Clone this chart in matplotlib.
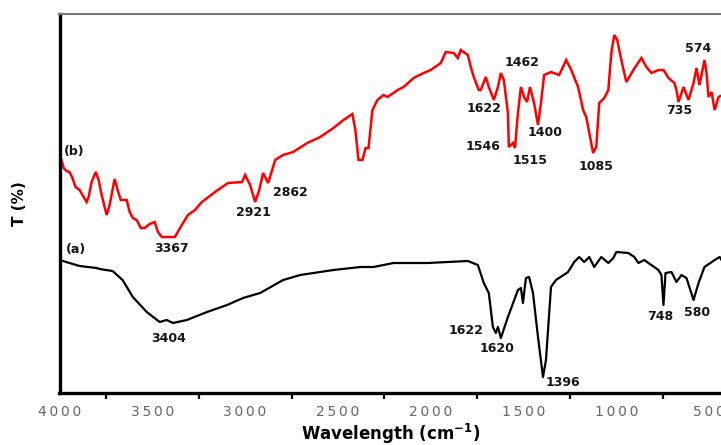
import numpy as np
import matplotlib
matplotlib.use("Agg")
import matplotlib.pyplot as plt

# spectrum (b), red: wavenumber (cm-1) and transmittance (arbitrary units)
wn_b = [3989, 3978, 3962, 3946, 3930, 3914, 3892, 3876, 3854, 3843, 3827, 3805,
        3789, 3773, 3746, 3730, 3703, 3687, 3670, 3638, 3622, 3605, 3584, 3562,
        3541, 3514, 3487, 3470, 3449, 3378, 3351, 3308, 3270, 3233, 3162, 3092,
        3016, 3000, 2973, 2946, 2924, 2903, 2876, 2838, 2795, 2741, 2665, 2595,
        2524, 2470, 2422, 2406, 2389, 2368, 2351, 2335, 2314, 2287, 2254, 2233,
        2178, 2146, 2092, 2038, 2000, 1946, 1919, 1876, 1854, 1838, 1800, 1784,
        1768, 1741, 1730, 1703, 1687, 1676, 1660, 1638, 1622, 1606, 1584, 1579,
        1557, 1546, 1530, 1514, 1497, 1481, 1465, 1443, 1422, 1406, 1389, 1352,
        1308, 1270, 1243, 1206, 1179, 1162, 1125, 1108, 1092, 1065, 1043, 1027,
        1011, 995, 973, 946, 908, 865, 838, 811, 773, 746, 719, 687,
        676, 665, 638, 611, 584, 568, 552, 525, 514, 503, 487, 470,
        449, 427]
t_b = [233, 225, 222, 221, 215, 206, 203, 198, 191, 196, 211, 221,
       213, 198, 178, 188, 214, 203, 193, 193, 181, 175, 173, 165,
       165, 169, 171, 161, 156, 156, 165, 178, 183, 191, 201, 210,
       211, 218, 208, 191, 203, 220, 210, 233, 238, 241, 250, 256,
       265, 273, 279, 263, 233, 233, 245, 245, 283, 293, 298, 296,
       303, 306, 315, 320, 323, 330, 341, 340, 335, 343, 338, 326,
       316, 303, 303, 316, 306, 301, 293, 306, 320, 313, 280, 246,
       250, 245, 280, 306, 296, 291, 306, 290, 268, 290, 318, 321,
       318, 333, 323, 306, 283, 276, 240, 246, 290, 295, 303, 340,
       358, 353, 333, 311, 323, 335, 326, 320, 323, 323, 315, 310,
       303, 291, 306, 293, 310, 325, 308, 333, 320, 296, 301, 283,
       296, 298]

# spectrum (a), black
wn_a = [4000, 3892, 3800, 3784, 3714, 3660, 3605, 3530, 3460, 3422, 3389, 3314,
        3205, 3097, 3011, 2919, 2795, 2703, 2524, 2378, 2308, 2200, 2016, 1800,
        1746, 1714, 1687, 1665, 1649, 1638, 1622, 1584, 1530, 1514, 1503, 1487,
        1470, 1449, 1422, 1395, 1379, 1352, 1325, 1260, 1227, 1200, 1173, 1146,
        1119, 1081, 1043, 1016, 1000, 935, 903, 881, 849, 827, 773, 757,
        746, 735, 703, 676, 649, 622, 584, 557, 525, 470, 443, 427]
t_a = [133, 127, 125, 124, 122, 113, 96, 81, 71, 73, 70, 73,
       81, 88, 95, 100, 113, 118, 123, 126, 126, 130, 130, 132,
       128, 110, 100, 66, 60, 66, 55, 76, 103, 105, 90, 115,
       116, 100, 56, 16, 33, 106, 113, 121, 131, 136, 131, 136,
       126, 136, 130, 135, 141, 140, 136, 130, 133, 130, 123, 118,
       88, 120, 121, 111, 118, 115, 93, 110, 126, 133, 136, 131]

# peak labels: text, wavenumber, height
labels_b = [("(b)", 3922, 241), ("3367", 3394, 144), ("2921", 2957, 180),
            ("2862", 2758, 201), ("1622", 1712, 285), ("1462", 1507, 330),
            ("1546", 1717, 247), ("1515", 1464, 233), ("1400", 1383, 260),
            ("1085", 1108, 226), ("735", 661, 283), ("574", 558, 344)]
labels_a = [("(a)", 3911, 144), ("3404", 3410, 54), ("1622", 1809, 63),
            ("1620", 1642, 44), ("1396", 1286, 11), ("748", 763, 76),
            ("580", 564, 81)]

major_ticks = [4000, 3500, 3000, 2500, 2000, 1500, 1000, 500]


def main():
    fig = plt.figure(figsize=(7.21, 4.45), dpi=100)
    ax = fig.add_axes([59.5 / 721, 52 / 445, 661.5 / 721, 379 / 445])

    ax.plot(wn_b, t_b, color="#ff0000", lw=1.8, solid_joinstyle="miter")
    ax.plot(wn_a, t_a, color="black", lw=1.6)

    for txt, x, y in labels_b + labels_a:
        ax.text(x, y, txt, ha="center", va="center", fontsize=9,
                fontweight="bold", color="#151515")

    ax.set_xlim(4000, 436)
    ax.set_ylim(0, 379)

    ax.set_xticks(major_ticks)
    ax.set_xticklabels(["\u2009".join(str(v)) for v in major_ticks],
                       fontsize=10, color="#666666")
    ax.set_xticks(np.arange(3750, 436, -500), minor=True)
    ax.tick_params(axis="x", which="major", length=0, pad=9)
    ax.tick_params(axis="x", which="minor", length=4, width=1.6,
                   direction="out", color="black")
    ax.set_yticks([])

    ax.spines["right"].set_visible(False)
    ax.spines["top"].set_color("#777777")
    ax.spines["top"].set_linewidth(1.5)
    ax.spines["left"].set_linewidth(2.4)
    ax.spines["bottom"].set_linewidth(2.4)

    ax.set_xlabel(r"Wavelength (cm$^{\mathbf{-1}}$)", fontsize=12,
                  fontweight="bold", va="center")
    ax.xaxis.set_label_coords(0.5, -0.107)
    ax.set_ylabel("T (%)", fontsize=11, fontweight="bold", va="center")
    ax.yaxis.set_label_coords(-0.06, 0.5)

    fig.savefig("out.png", dpi=100)


main()
